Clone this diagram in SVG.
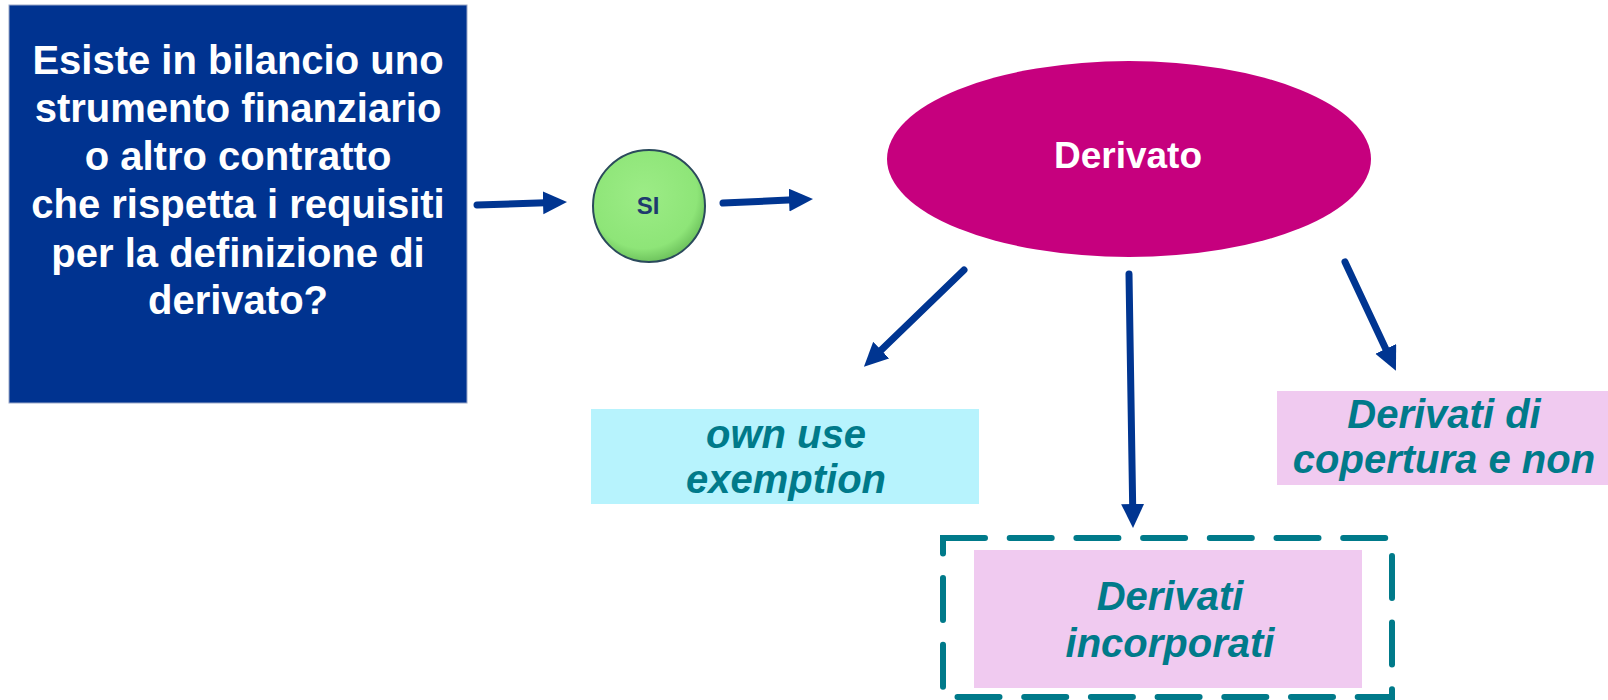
<svg xmlns="http://www.w3.org/2000/svg" width="1608" height="700" viewBox="0 0 1608 700">
<style>
.q{font-family:"Liberation Sans",Arial,sans-serif;font-weight:bold;fill:#ffffff;font-size:40px;text-anchor:middle}
.t{font-family:"Liberation Sans",Arial,sans-serif;font-weight:bold;font-style:italic;fill:#007A8A;font-size:40px;text-anchor:middle}
.c{stroke:#003591;stroke-width:7;stroke-linecap:round;fill:none;marker-end:url(#ah)}
</style>
<defs>
<marker id="ah" markerUnits="userSpaceOnUse" markerWidth="26" markerHeight="25" refX="10" refY="11.5" orient="auto" viewBox="0 0 26 25">
<path d="M0,0 L24,11.5 L0,23 z" fill="#003591"/>
</marker>
<radialGradient id="gr" cx="0.45" cy="0.4" r="0.6">
<stop offset="0" stop-color="#9CEC86"/>
<stop offset="0.8" stop-color="#8EE578"/>
<stop offset="1" stop-color="#6FC45E"/>
</radialGradient>
</defs>
<rect width="1608" height="700" fill="#ffffff"/>
<g id="question">
<rect x="9" y="5" width="458" height="398" fill="#003390" stroke="#9AA8C8" stroke-width="1"/>
<text class="q" x="238" y="74">Esiste in bilancio uno</text>
<text class="q" x="238" y="122">strumento finanziario</text>
<text class="q" x="238" y="170">o altro contratto</text>
<text class="q" x="238" y="218">che rispetta i requisiti</text>
<text class="q" x="238" y="267">per la definizione di</text>
<text class="q" x="238" y="314">derivato?</text>
</g>
<g id="si">
<circle cx="649" cy="206" r="56" fill="url(#gr)" stroke="#2B4A5C" stroke-width="2"/>
<text x="648" y="214" font-family="Liberation Sans,Arial,sans-serif" font-weight="bold" font-size="24" fill="#1F3A6E" text-anchor="middle">SI</text>
</g>
<g id="derivato">
<ellipse cx="1129" cy="159" rx="242" ry="98" fill="#C6007E"/>
<text x="1128" y="168" font-family="Liberation Sans,Arial,sans-serif" font-weight="bold" font-size="37" fill="#ffffff" text-anchor="middle">Derivato</text>
</g>
<g id="own-use">
<rect x="591" y="409" width="388" height="95" fill="#B7F3FD"/>
<text class="t" x="786" y="448">own use</text>
<text class="t" x="786" y="493">exemption</text>
</g>
<g id="copertura">
<rect x="1277" y="391" width="335" height="94" fill="#F0CAF0"/>
<text class="t" x="1444" y="428">Derivati di</text>
<text class="t" x="1444" y="473">copertura e non</text>
</g>
<g id="incorporati">
<rect x="943" y="538" width="449" height="159" fill="none" stroke="#007A8A" stroke-width="6" stroke-linecap="round" stroke-dasharray="42 24.7"/>
<rect x="974" y="550" width="388" height="138" fill="#F0CAF0"/>
<text class="t" x="1170" y="610">Derivati</text>
<text class="t" x="1170" y="657">incorporati</text>
</g>
<g id="connectors">
<line class="c" x1="477" y1="205" x2="553" y2="202.5"/>
<line class="c" x1="723" y1="203" x2="799" y2="199.6"/>
<line class="c" x1="964" y1="270" x2="874" y2="357"/>
<line class="c" x1="1129" y1="274" x2="1132.8" y2="514"/>
<line class="c" x1="1345" y1="262" x2="1390" y2="358"/>
</g>
</svg>
